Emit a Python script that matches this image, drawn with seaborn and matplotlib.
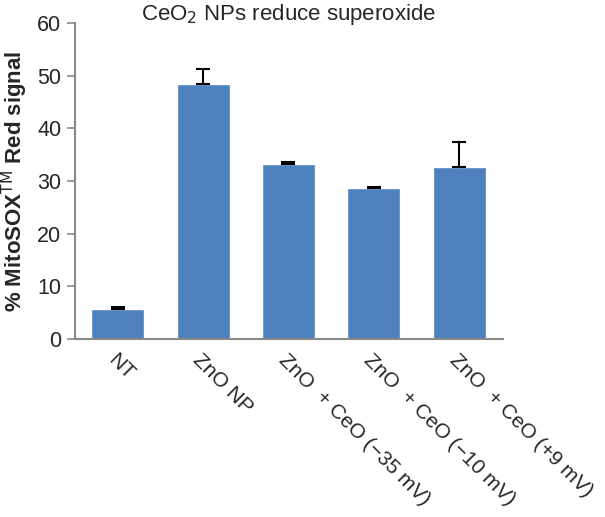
import seaborn as sns
import matplotlib.pyplot as plt
import pandas as pd

# Data
groups = ['NT', 'ZnO NP', 'ZnO  + CeO (\u221235 mV)', 'ZnO  + CeO (\u221210 mV)', 'ZnO  + CeO (+9 mV)']
signal = [5.7, 48.5, 33.3, 28.6, 32.7]
err_up = [0.3, 2.8, 0.3, 0.3, 4.8]

df = pd.DataFrame({'group': groups, 'signal': signal})

sns.set_style('white')
plt.rcParams['font.family'] = ['Liberation Sans', 'DejaVu Sans']

fig = plt.figure(figsize=(6.05, 5.17), dpi=100)
ax = fig.add_axes([0.124, 0.3443, 0.707, 0.611])

sns.barplot(data=df, x='group', y='signal', color='#4F81BD', saturation=1,
            width=0.62, ax=ax, errorbar=None)

# one-sided error bars (upper only)
ax.errorbar(range(len(groups)), signal, yerr=[[0] * len(err_up), err_up],
            fmt='none', ecolor='black', elinewidth=1.5, capsize=5, capthick=1.5)

ax.set_ylim(0, 60)
ax.set_xlim(-0.5, 4.51)
ax.set_yticks(range(0, 61, 10))
ax.tick_params(axis='y', labelsize=15.5, length=6, width=1.2, color='#888888',
               direction='out', left=True, pad=4)
ax.tick_params(axis='x', length=0, labelsize=15, pad=8)
plt.setp(ax.get_xticklabels(), rotation=-45, ha='left', va='top', rotation_mode='anchor')

for s in ['top', 'right']:
    ax.spines[s].set_visible(False)
for s in ['left', 'bottom']:
    ax.spines[s].set_color('#888888')
    ax.spines[s].set_linewidth(1.5)

ax.set_xlabel('')
ax.set_ylabel('% MitoSOX$^{\\mathrm{TM}}$ Red signal', fontsize=16, fontweight='bold')
ax.yaxis.set_label_coords(-0.106, 0.5)
ax.set_title('CeO$_2$ NPs reduce superoxide', fontsize=16, pad=2)

plt.savefig('out.png', dpi=100)
